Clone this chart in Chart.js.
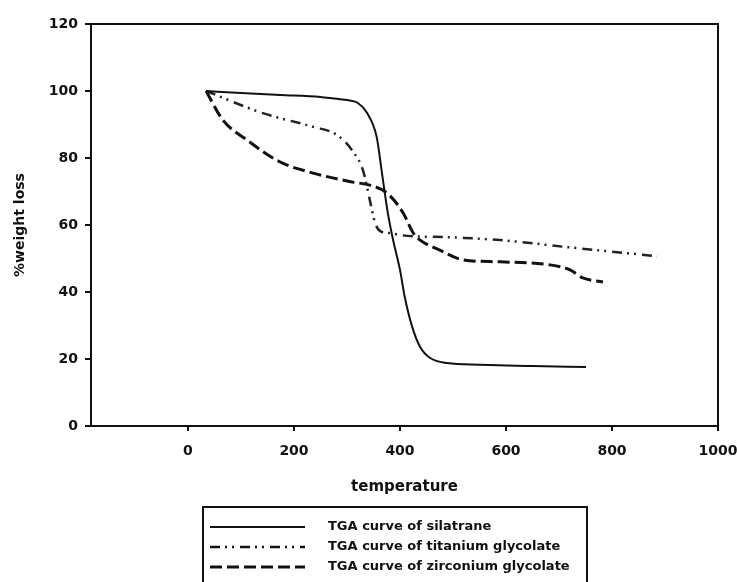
<!DOCTYPE html>
<html>
<head>
<meta charset="utf-8">
<script src="https://cdn.jsdelivr.net/npm/chart.js@4"></script>
<style>
  html, body { margin: 0; padding: 0; background: #fff; }
  #wrap { width: 737px; height: 582px; }
</style>
</head>
<body>
<div id="wrap"><canvas id="myChart" width="737" height="582"></canvas></div>
<script>
// values
const silaTemp = [34, 100, 174, 250, 300, 320, 338, 356, 366, 377, 387, 400, 409, 423, 438, 457, 489, 550, 650, 751]
const silaWeight = [100, 99.4, 98.8, 98.2, 97.3, 96.5, 93.4, 86.3, 75.5, 63.6, 55.5, 46.6, 38.5, 29.6, 23.6, 20.3, 18.8, 18.3, 17.9, 17.6]

const titTemp = [34, 141, 236, 281, 311, 330, 343, 353, 366, 381, 400, 500, 589, 715, 885]
const titWeight = [100, 93.4, 89.3, 86.9, 82.0, 76.4, 67.5, 60.6, 57.9, 57.6, 57, 56.3, 55.5, 53.4, 50.7]

const zirTemp = [34, 66, 111, 174, 236, 311, 343, 375, 406, 425, 438, 475, 519, 589, 683, 721, 745, 783]
const zirWeight = [100, 91.3, 85.4, 78.8, 75.5, 72.8, 71.9, 69.6, 63.6, 57.6, 55.5, 52.5, 49.6, 49, 48.1, 46.6, 44.2, 43]

const xTicks = [0, 200, 400, 600, 800, 1000]
const legendNames = ['TGA curve of silatrane', 'TGA curve of titanium glycolate', 'TGA curve of zirconium glycolate']

const FONT = '"DejaVu Sans", sans-serif'

let pts = (xs, ys) => xs.map((x, i) => ({x: x, y: ys[i]}))

// frame round the plot + boxed legend under the axis title
const framePlugin = {
    id: 'frame',
    afterDraw(chart) {
        const ctx = chart.ctx
        const a = chart.chartArea
        ctx.save()
        ctx.strokeStyle = '#111'
        ctx.lineWidth = 2
        ctx.setLineDash([])
        ctx.strokeRect(a.left, a.top, a.right - a.left, a.bottom - a.top)

        // legend box
        ctx.lineWidth = 2
        ctx.strokeRect(203, 507, 384, 100)
        const rows = [527, 547, 567]
        chart.data.datasets.forEach((ds, i) => {
            ctx.beginPath()
            ctx.lineWidth = ds.borderWidth
            ctx.setLineDash(ds.borderDash || [])
            ctx.moveTo(210, rows[i])
            ctx.lineTo(305, rows[i])
            ctx.stroke()
            ctx.setLineDash([])
            ctx.fillStyle = '#111'
            ctx.font = 'bold 13px ' + FONT
            ctx.textBaseline = 'middle'
            ctx.fillText(legendNames[i], 328, rows[i])
        })
        ctx.restore()
    }
}

const dataset = {
    datasets: [{
        label: legendNames[0],
        data: pts(silaTemp, silaWeight),
        borderColor: '#111',
        borderWidth: 2,
        pointRadius: 0,
        cubicInterpolationMode: 'monotone',
        fill: false
    }, {
        label: legendNames[1],
        data: pts(titTemp, titWeight),
        borderColor: '#222',
        borderWidth: 2.5,
        borderDash: [10, 5, 2, 5, 2, 6],
        pointRadius: 0,
        cubicInterpolationMode: 'monotone',
        fill: false
    }, {
        label: legendNames[2],
        data: pts(zirTemp, zirWeight),
        borderColor: '#111',
        borderWidth: 3,
        borderDash: [12, 5],
        pointRadius: 0,
        cubicInterpolationMode: 'monotone',
        fill: false
    }]
}

const config = {
    type: 'line',
    data: dataset,
    options: {
        responsive: false,
        animation: false,
        layout: { padding: { top: 24, right: 19, bottom: 76, left: 0 } },
        plugins: {
            legend: { display: false },
            tooltip: { enabled: false }
        },
        scales: {
            x: {
                type: 'linear',
                min: -183,
                max: 1000,
                afterBuildTicks: (scale) => { scale.ticks = xTicks.map(v => ({value: v})) },
                afterFit: (scale) => { scale.height = 80; scale.paddingRight = 0; scale.paddingLeft = 0 },
                grid: { drawOnChartArea: false, drawTicks: true, tickLength: 5, color: '#111', lineWidth: 2 },
                border: { display: true, color: '#111', width: 2 },
                ticks: { color: '#111', padding: 12, maxRotation: 0, callback: (v) => String(v), font: { family: FONT, size: 14, weight: 'bold' } },
                title: { display: true, text: 'temperature', color: '#111', padding: { top: 0, bottom: 10 }, font: { family: FONT, size: 15, weight: 'bold' } }
            },
            y: {
                min: 0,
                max: 120,
                afterFit: (scale) => { scale.width = 91 },
                grid: { drawOnChartArea: false, drawTicks: true, tickLength: 6, color: '#111', lineWidth: 2 },
                border: { display: true, color: '#111', width: 2 },
                ticks: { stepSize: 20, color: '#111', padding: 7, font: { family: FONT, size: 14, weight: 'bold' } },
                title: { display: true, text: '%weight loss', color: '#111', padding: { top: 12, bottom: 0 }, font: { family: FONT, size: 14, weight: 'bold' } }
            }
        }
    },
    plugins: [framePlugin]
}

const chart = new Chart(document.getElementById('myChart'), config)
</script>
</body>
</html>
